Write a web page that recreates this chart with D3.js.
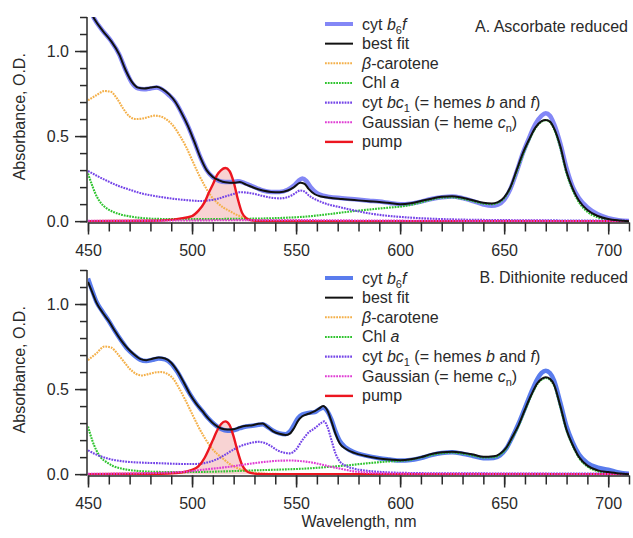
<!DOCTYPE html>
<html>
<head>
<meta charset="utf-8">
<script src="https://cdn.jsdelivr.net/npm/d3@7"></script>
<style>
  html, body { margin: 0; padding: 0; background: #fff; }
  svg { display: block; font-family: "Liberation Sans", Arial, sans-serif; }
</style>
</head>
<body>
<svg id="chart" width="633" height="538"></svg>
<script>
// ---- Axis ticks ----
const xMajorTicks = [450, 500, 550, 600, 650, 700];
const xMinorTicks = d3.range(450, 711, 10);
const yMajorTicks = [0, 0.5, 1.0];
const yTickLabels = ["0.0", "0.5", "1.0"];
const yMinorTicks = d3.range(0, 1.21, 0.1);

// ---- Panel A: ascorbate reduced (wavelength nm, absorbance O.D.) ----
const cytA = [[450,1.27],[453,1.19],[457,1.12],[461,1.06],[465,0.98],[468,0.89],[471,0.815],[474,0.78],[477,0.775],[480,0.78],[483,0.785],[486,0.77],[489,0.74],[492,0.70],[495,0.635],[498,0.56],[501,0.47],[504,0.375],[507,0.30],[510,0.258],[513,0.237],[516,0.23],[519,0.23],[522,0.235],[525,0.225],[528,0.21],[531,0.195],[534,0.18],[538,0.172],[542,0.172],[546,0.185],[549,0.21],[551,0.235],[553,0.25],[555,0.235],[557,0.2],[560,0.165],[563,0.15],[566,0.142],[572,0.135],[578,0.128],[585,0.12],[590,0.115],[595,0.107],[600,0.10],[605,0.103],[610,0.115],[615,0.13],[620,0.14],[625,0.145],[630,0.135],[635,0.118],[640,0.098],[644,0.09],[647,0.097],[650,0.125],[653,0.19],[656,0.29],[659,0.40],[662,0.49],[665,0.57],[668,0.62],[670,0.634],[672,0.62],[674,0.57],[677,0.455],[680,0.31],[683,0.20],[686,0.135],[690,0.08],[695,0.04],[700,0.018],[705,0.006],[710,0.001]];
const fitA = [[450,1.26],[453,1.19],[457,1.12],[461,1.06],[465,0.98],[468,0.89],[471,0.82],[474,0.785],[477,0.78],[480,0.785],[483,0.79],[486,0.775],[489,0.745],[492,0.70],[495,0.635],[498,0.56],[501,0.47],[504,0.375],[507,0.30],[510,0.26],[513,0.24],[516,0.228],[520,0.225],[523,0.23],[526,0.215],[530,0.195],[534,0.18],[538,0.172],[542,0.17],[546,0.18],[549,0.20],[552,0.225],[554,0.22],[556,0.19],[559,0.158],[562,0.145],[566,0.137],[572,0.13],[578,0.124],[585,0.117],[590,0.113],[595,0.107],[600,0.10],[605,0.105],[610,0.118],[615,0.132],[620,0.143],[625,0.147],[630,0.137],[635,0.123],[640,0.108],[644,0.104],[647,0.112],[650,0.14],[653,0.20],[656,0.30],[659,0.40],[662,0.48],[665,0.55],[668,0.588],[670,0.595],[672,0.585],[674,0.545],[677,0.44],[680,0.29],[683,0.19],[686,0.12],[690,0.065],[695,0.03],[700,0.012],[705,0.004],[710,0.0]];
const carA = [[450,0.71],[454,0.74],[458,0.765],[461,0.76],[464,0.72],[467,0.66],[470,0.615],[473,0.60],[476,0.603],[479,0.612],[482,0.62],[485,0.615],[488,0.595],[491,0.56],[494,0.505],[497,0.44],[500,0.36],[503,0.28],[506,0.21],[509,0.15],[512,0.11],[515,0.08],[518,0.06],[521,0.04],[524,0.024],[527,0.012],[530,0.006],[535,0.003],[540,0.002],[560,0.001],[600,0],[710,0]];
const chlA = [[450,0.28],[452,0.21],[454,0.15],[456,0.11],[459,0.075],[462,0.055],[466,0.038],[470,0.028],[476,0.018],[485,0.013],[495,0.012],[505,0.012],[515,0.013],[525,0.014],[535,0.016],[545,0.02],[555,0.027],[565,0.04],[575,0.055],[585,0.068],[595,0.08],[600,0.085],[605,0.095],[610,0.11],[615,0.127],[620,0.138],[625,0.14],[630,0.132],[635,0.118],[640,0.103],[644,0.10],[647,0.108],[650,0.135],[653,0.195],[656,0.29],[659,0.39],[662,0.475],[665,0.545],[668,0.585],[670,0.594],[672,0.583],[674,0.54],[677,0.43],[680,0.28],[683,0.18],[686,0.11],[690,0.055],[695,0.022],[700,0.008],[705,0.002],[710,0.0]];
const bcA = [[450,0.295],[455,0.262],[460,0.232],[465,0.205],[470,0.185],[475,0.165],[480,0.152],[485,0.142],[490,0.133],[495,0.126],[500,0.121],[504,0.118],[508,0.122],[512,0.13],[516,0.145],[520,0.16],[523,0.17],[526,0.168],[530,0.16],[534,0.148],[538,0.138],[542,0.134],[545,0.138],[548,0.152],[550,0.168],[552,0.18],[554,0.175],[556,0.152],[560,0.124],[565,0.10],[570,0.085],[576,0.068],[584,0.048],[592,0.034],[600,0.025],[610,0.017],[620,0.012],[630,0.009],[650,0.006],[680,0.004],[710,0.003]];
const gaussA = [[450,0.002],[500,0.004],[530,0.006],[550,0.006],[580,0.004],[620,0.002],[710,0.001]];
const pumpA = [[450,0],[480,0.002],[488,0.006],[494,0.015],[500,0.03],[503,0.06],[506,0.11],[508,0.165],[510,0.215],[512,0.27],[514,0.30],[516,0.312],[518,0.295],[520,0.23],[522,0.13],[524,0.05],[526,0.018],[528,0.006],[532,0.001],[540,0],[710,0]];

// ---- Panel B: dithionite reduced ----
const cytB = [[450,1.15],[452,1.08],[454,1.015],[457,0.955],[460,0.90],[463,0.84],[466,0.785],[469,0.735],[472,0.70],[475,0.673],[478,0.665],[481,0.672],[484,0.68],[487,0.675],[490,0.65],[493,0.60],[496,0.535],[499,0.47],[502,0.415],[505,0.37],[508,0.325],[511,0.29],[514,0.265],[517,0.255],[520,0.258],[523,0.27],[526,0.28],[529,0.285],[532,0.29],[534,0.293],[536,0.28],[539,0.255],[542,0.24],[545,0.235],[547,0.25],[549,0.29],[551,0.33],[553,0.35],[556,0.36],[559,0.365],[561,0.38],[563,0.39],[565,0.37],[567,0.32],[569,0.25],[571,0.195],[574,0.155],[578,0.128],[583,0.11],[590,0.093],[595,0.086],[600,0.08],[605,0.083],[610,0.095],[615,0.112],[620,0.124],[625,0.128],[630,0.12],[635,0.107],[640,0.093],[645,0.095],[648,0.11],[651,0.15],[654,0.22],[657,0.30],[660,0.39],[663,0.48],[666,0.56],[668,0.595],[670,0.608],[672,0.595],[674,0.55],[677,0.42],[680,0.28],[683,0.185],[686,0.115],[690,0.065],[695,0.038],[700,0.026],[705,0.01],[710,0.002]];
const fitB = [[450,1.13],[452,1.07],[454,1.01],[457,0.95],[460,0.90],[463,0.84],[466,0.785],[469,0.74],[472,0.705],[475,0.678],[478,0.67],[481,0.678],[484,0.685],[487,0.68],[490,0.655],[493,0.605],[496,0.54],[499,0.47],[502,0.415],[505,0.37],[508,0.325],[511,0.29],[514,0.268],[517,0.262],[520,0.264],[523,0.276],[526,0.284],[529,0.288],[532,0.296],[534,0.298],[536,0.28],[539,0.252],[542,0.237],[545,0.23],[547,0.238],[549,0.27],[551,0.315],[553,0.34],[556,0.355],[559,0.37],[561,0.385],[563,0.40],[565,0.375],[567,0.31],[569,0.235],[571,0.18],[574,0.148],[578,0.125],[583,0.108],[590,0.092],[595,0.086],[600,0.082],[605,0.087],[610,0.10],[615,0.118],[620,0.128],[625,0.132],[630,0.126],[635,0.115],[640,0.102],[645,0.105],[648,0.12],[651,0.155],[654,0.22],[657,0.29],[660,0.38],[663,0.465],[666,0.535],[668,0.56],[670,0.57],[672,0.56],[674,0.525],[677,0.40],[680,0.26],[683,0.17],[686,0.10],[690,0.05],[695,0.022],[700,0.012],[705,0.004],[710,0.0]];
const carB = [[450,0.67],[454,0.71],[458,0.75],[461,0.745],[464,0.71],[467,0.665],[470,0.62],[473,0.59],[476,0.58],[479,0.588],[482,0.597],[485,0.60],[488,0.59],[491,0.56],[494,0.50],[497,0.43],[500,0.355],[503,0.28],[506,0.215],[509,0.16],[512,0.12],[515,0.09],[518,0.06],[521,0.04],[524,0.025],[527,0.014],[530,0.007],[535,0.003],[545,0.001],[600,0],[710,0]];
const chlB = [[450,0.28],[452,0.20],[454,0.14],[456,0.10],[459,0.07],[462,0.048],[466,0.033],[470,0.024],[476,0.017],[485,0.013],[495,0.012],[505,0.013],[515,0.016],[525,0.02],[535,0.024],[545,0.028],[555,0.033],[565,0.042],[575,0.052],[585,0.065],[595,0.075],[600,0.078],[605,0.085],[610,0.098],[615,0.113],[620,0.123],[625,0.127],[630,0.121],[635,0.11],[640,0.098],[645,0.10],[648,0.114],[651,0.15],[654,0.215],[657,0.285],[660,0.375],[663,0.46],[666,0.53],[668,0.555],[670,0.565],[672,0.555],[674,0.52],[677,0.395],[680,0.255],[683,0.165],[686,0.095],[690,0.045],[695,0.017],[700,0.006],[705,0.002],[710,0.0]];
const bcB = [[450,0.14],[455,0.11],[460,0.09],[467,0.075],[475,0.068],[485,0.064],[495,0.06],[502,0.06],[507,0.068],[512,0.088],[516,0.115],[520,0.145],[524,0.168],[528,0.183],[532,0.19],[535,0.183],[538,0.165],[541,0.14],[544,0.127],[547,0.122],[550,0.145],[553,0.20],[556,0.245],[559,0.27],[562,0.30],[563.5,0.31],[565,0.28],[567,0.20],[569,0.12],[571,0.075],[574,0.048],[578,0.032],[584,0.02],[592,0.012],[600,0.008],[620,0.005],[710,0.003]];
const gaussB = [[450,0.002],[470,0.004],[485,0.008],[495,0.013],[500,0.018],[505,0.026],[512,0.035],[519,0.045],[527,0.06],[535,0.072],[542,0.079],[548,0.08],[552,0.077],[560,0.063],[566,0.045],[572,0.03],[578,0.016],[585,0.008],[595,0.004],[620,0.002],[710,0.001]];
const pumpB = [[450,0],[485,0.002],[492,0.006],[496,0.012],[500,0.025],[503,0.045],[506,0.095],[508,0.145],[510,0.20],[512,0.255],[514,0.295],[516,0.31],[518,0.29],[520,0.22],[522,0.13],[524,0.055],[526,0.02],[528,0.007],[532,0.001],[540,0],[710,0]];

// ---- Styles ----
const COL = {
  cytA: "rgb(118,122,245)",
  cytB: "rgb(72,110,235)",
  fit: "#111111",
  car: "#f4b04a",
  chl: "#2fc42f",
  bc: "#7444e8",
  gauss: "#e03cd4",
  pump: "#ec1620",
  fill: "rgba(238,150,150,0.42)"
};

const svg = d3.select("#chart");
const x = d3.scaleLinear().domain([450, 710]).range([88, 629]);
const axisX0 = 87;

const panels = [
  { id: "A", top: 17, bottom: 222.5, title: "A. Ascorbate reduced", titleY: 32, legY: 24,
    cyt: cytA, fit: fitA, car: carA, chl: chlA, bc: bcA, gauss: gaussA, pump: pumpA, cytColor: COL.cytA },
  { id: "B", top: 270, bottom: 475.5, title: "B. Dithionite reduced", titleY: 283, legY: 278,
    cyt: cytB, fit: fitB, car: carB, chl: chlB, bc: bcB, gauss: gaussB, pump: pumpB, cytColor: COL.cytB }
];

const legendItems = [
  { key: "cyt", parts: [{ t: "cyt " }, { t: "b", i: 1 }, { t: "6", sub: 1 }, { t: "f", i: 1 }] },
  { key: "fit", parts: [{ t: "best fit" }] },
  { key: "car", parts: [{ t: "β", i: 1 }, { t: "-carotene" }] },
  { key: "chl", parts: [{ t: "Chl " }, { t: "a", i: 1 }] },
  { key: "bc", parts: [{ t: "cyt " }, { t: "bc", i: 1 }, { t: "1", sub: 1 }, { t: " (= hemes " }, { t: "b", i: 1 }, { t: " and " }, { t: "f", i: 1 }, { t: ")" }] },
  { key: "gauss", parts: [{ t: "Gaussian (= heme " }, { t: "c", i: 1 }, { t: "n", sub: 1 }, { t: ")" }] },
  { key: "pump", parts: [{ t: "pump" }] }
];

function styleFor(key, p) {
  switch (key) {
    case "cyt": return { stroke: p.cytColor, width: 4.5, dash: null, opacity: 0.9 };
    case "fit": return { stroke: COL.fit, width: 2, dash: null, opacity: 1 };
    case "car": return { stroke: COL.car, width: 2.1, dash: "1.8,1", opacity: 1 };
    case "chl": return { stroke: COL.chl, width: 2.1, dash: "1.8,1", opacity: 1 };
    case "bc": return { stroke: COL.bc, width: 2.1, dash: "1.8,1", opacity: 1 };
    case "gauss": return { stroke: COL.gauss, width: 2.1, dash: "1.8,1", opacity: 1 };
    case "pump": return { stroke: COL.pump, width: 2.4, dash: null, opacity: 1 };
  }
}

panels.forEach(p => {
  const y = d3.scaleLinear().domain([-0.008, 1.2]).range([p.bottom, p.top]);
  const g = svg.append("g");

  const clipId = "clip" + p.id;
  svg.append("clipPath").attr("id", clipId)
    .append("rect").attr("x", x(450)).attr("y", p.top).attr("width", x(710) - x(450)).attr("height", p.bottom - p.top);

  const plot = g.append("g").attr("clip-path", `url(#${clipId})`);
  const line = d3.line().x(d => x(d[0])).y(d => y(d[1])).curve(d3.curveMonotoneX);
  const area = d3.area().x(d => x(d[0])).y0(y(0)).y1(d => y(d[1])).curve(d3.curveMonotoneX);

  // shaded pump band
  plot.append("path").datum(p.pump.filter(d => d[0] >= 480 && d[0] <= 535))
    .attr("d", area).attr("fill", COL.fill).attr("stroke", "none");

  const order = ["cyt", "car", "chl", "bc", "pump", "gauss", "fit"];
  order.forEach(k => {
    const s = styleFor(k, p);
    plot.append("path").datum(p[k])
      .attr("d", line)
      .attr("fill", "none")
      .attr("stroke", s.stroke)
      .attr("stroke-width", s.width)
      .attr("stroke-opacity", s.opacity)
      .attr("stroke-dasharray", s.dash)
      .attr("stroke-linejoin", "round");
  });

  // axes
  const axStyle = sel => {
    sel.selectAll("path, line").attr("stroke", "#2a2a2a").attr("stroke-width", 1.5);
    sel.selectAll("text").attr("fill", "#2a2a2a").attr("font-size", 16)
      .attr("font-family", "'Liberation Sans', Arial, sans-serif");
  };

  g.append("g").attr("transform", `translate(0,${p.bottom})`)
    .call(d3.axisBottom(x).tickValues(xMinorTicks).tickSize(9).tickSizeOuter(0).tickFormat(""))
    .call(axStyle);
  g.append("g").attr("transform", `translate(0,${p.bottom})`)
    .call(d3.axisBottom(x).tickValues(xMajorTicks).tickSize(12).tickSizeOuter(0).tickPadding(10).tickFormat(d3.format("d")))
    .call(sel => sel.select(".domain").remove())
    .call(axStyle);

  g.append("g").attr("transform", `translate(${axisX0},0)`)
    .call(d3.axisLeft(y).tickValues(yMinorTicks).tickSize(7).tickSizeOuter(0).tickFormat(""))
    .call(sel => sel.select(".domain").attr("d", `M0,${p.top}V${p.bottom}`))
    .call(axStyle);
  g.append("g").attr("transform", `translate(${axisX0},0)`)
    .call(d3.axisLeft(y).tickValues(yMajorTicks).tickSize(12).tickPadding(6)
      .tickFormat((d, i) => yTickLabels[i]))
    .call(sel => sel.select(".domain").remove())
    .call(axStyle);

  // y-axis title
  g.append("text")
    .attr("transform", `translate(25,${(p.top + p.bottom) / 2 - 3}) rotate(-90)`)
    .attr("text-anchor", "middle").attr("font-size", 16).attr("fill", "#2a2a2a")
    .text("Absorbance, O.D.");

  // panel title
  g.append("text").attr("x", 628).attr("y", p.titleY).attr("text-anchor", "end")
    .attr("font-size", 16).attr("fill", "#2a2a2a").text(p.title);

  // legend
  const leg = g.append("g");
  legendItems.forEach((it, i) => {
    const ly = p.legY + i * 19.65;
    const s = styleFor(it.key, p);
    leg.append("line").attr("x1", 325).attr("x2", 353).attr("y1", ly).attr("y2", ly)
      .attr("stroke", s.stroke).attr("stroke-width", it.key === "cyt" ? 4 : s.width)
      .attr("stroke-opacity", s.opacity).attr("stroke-dasharray", s.dash);
    const t = leg.append("text").attr("x", 362).attr("y", ly + 5.5)
      .attr("font-size", 16).attr("fill", "#2a2a2a");
    let shifted = false;
    it.parts.forEach(pt => {
      const ts = t.append("tspan").text(pt.t);
      if (pt.i) ts.attr("font-style", "italic");
      if (pt.sub) { ts.attr("font-size", 11).attr("dy", 4); shifted = true; }
      else if (shifted) { ts.attr("dy", -4); shifted = false; }
    });
  });
});

// x-axis title
svg.append("text").attr("x", 359).attr("y", 527).attr("text-anchor", "middle")
  .attr("font-size", 16).attr("fill", "#2a2a2a").text("Wavelength, nm");
</script>
</body>
</html>
